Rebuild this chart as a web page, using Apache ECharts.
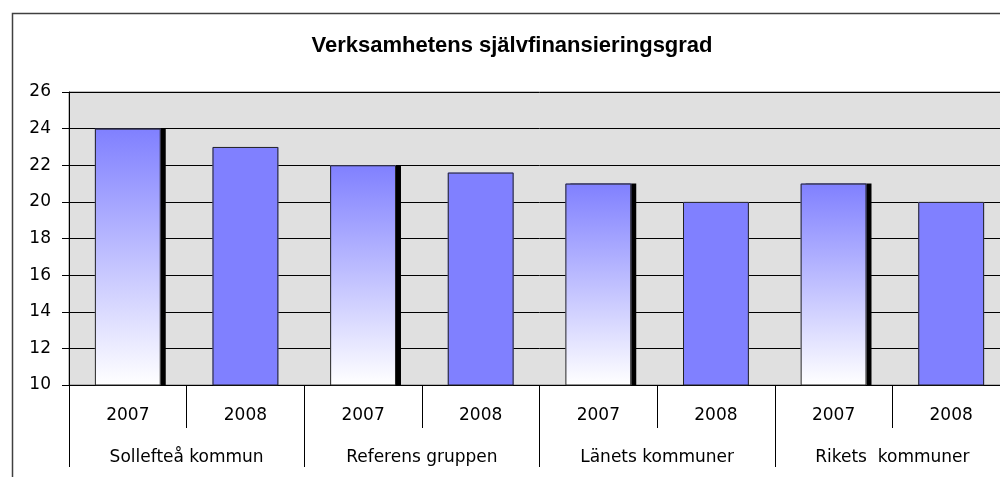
<!DOCTYPE html>
<html lang="sv">
<head>
<meta charset="UTF-8">
<title>Verksamhetens självfinansieringsgrad</title>
<script src="https://cdn.jsdelivr.net/npm/echarts@6/dist/echarts.min.js"></script>
<style>
    html, body { margin: 0; background: #fff; overflow: hidden; }
    /* chart area runs past the right edge of the window, like the original */
    #chart { width: 1030px; height: 477px; }
</style>
</head>
<body>
<div id="chart"></div>
<script>
// data
const years = ['2007', '2008', '2007', '2008', '2007', '2008', '2007', '2008'];
const groups = ['Sollefteå kommun', 'Referens gruppen', 'Länets kommuner', 'Rikets  kommuner'];
const values = [24, 23, 22, 21.6, 21, 20, 21, 20];
const yTicks = { min: 10, max: 26, interval: 2 };

const labelFont = 'DejaVu Sans, sans-serif';
const titleFont = 'Liberation Sans, Arial, sans-serif';

// 2007 bars: gradient + hard black shadow, 2008 bars: flat blue
const gradient = {
    type: 'linear', x: 0, y: 0, x2: 0, y2: 1,
    colorStops: [
        { offset: 0, color: '#8080FF' },
        { offset: 1, color: '#FFFFFF' }
    ]
};

// fill layer (no border, so the shadow is only cast by the fill)
const fillData = values.map((v, i) => ({
    value: v,
    itemStyle: years[i] === '2007'
        ? { color: gradient, shadowColor: '#000', shadowBlur: 0, shadowOffsetX: 5, shadowOffsetY: 0 }
        : { color: '#8080FF' }
}));

const chart = echarts.init(document.getElementById('chart'));
chart.setOption({
    animation: false,
    title: {
        text: 'Verksamhetens självfinansieringsgrad',
        left: 507, top: 30, textAlign: 'center',
        textStyle: { fontFamily: titleFont, fontSize: 22, fontWeight: 'bold', color: '#000' }
    },
    graphic: [{
        type: 'rect', left: 10, top: 11, z: -1,
        shape: { width: 1040, height: 520 },
        style: { fill: 'none', stroke: '#404040', lineWidth: 1.5 }
    }],
    grid: {
        left: 69, top: 92, width: 941, height: 293,
        show: true, backgroundColor: '#E0E0E0', borderColor: '#808080', borderWidth: 1
    },
    xAxis: [{
        type: 'category', data: years, position: 'bottom',
        axisLine: { lineStyle: { color: '#000' } },
        axisTick: { show: true, interval: 0, length: 43, lineStyle: { color: '#000' } },
        axisLabel: { interval: 0, margin: 22, fontFamily: labelFont, fontSize: 17, color: '#000' }
    }, {
        type: 'category', data: groups, position: 'bottom',
        axisLine: { show: false },
        axisTick: { show: true, interval: 0, length: 82, lineStyle: { color: '#000' } },
        axisLabel: { interval: 0, margin: 64, fontFamily: labelFont, fontSize: 17, color: '#000' }
    }],
    yAxis: {
        type: 'value', min: yTicks.min, max: yTicks.max, interval: yTicks.interval,
        axisLine: { show: true, lineStyle: { color: '#000' } },
        axisTick: { show: true, length: 7, lineStyle: { color: '#000' } },
        axisLabel: { margin: 18, fontFamily: labelFont, fontSize: 17, color: '#000' },
        splitLine: { show: true, lineStyle: { color: '#000', width: 1 } }
    },
    series: [{
        type: 'bar', xAxisIndex: 0, barWidth: '56%',
        data: fillData
    }, {
        // outline layer drawn over the fills
        type: 'bar', xAxisIndex: 0, barWidth: '56%', barGap: '-100%',
        itemStyle: { color: 'rgba(0,0,0,0)', borderColor: '#222', borderWidth: 1 },
        data: values
    }]
});
</script>
</body>
</html>
